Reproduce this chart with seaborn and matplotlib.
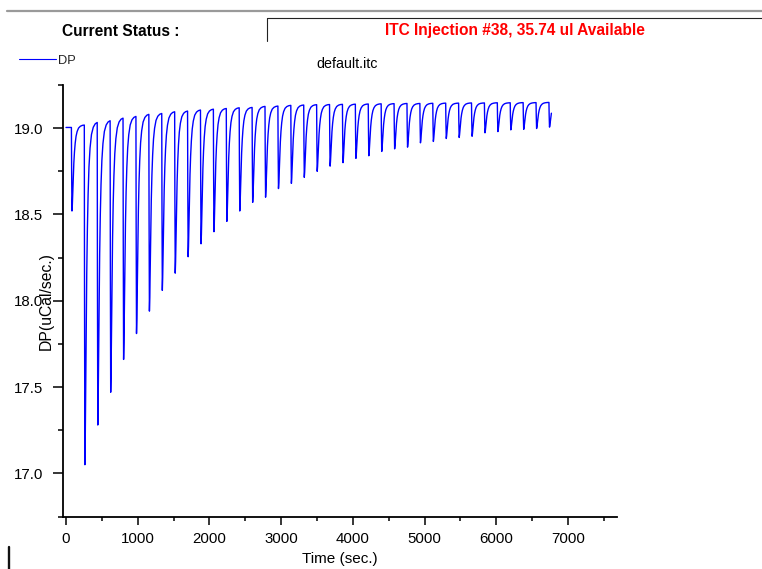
import numpy as np
import pandas as pd
import matplotlib
matplotlib.use("Agg")
import matplotlib.pyplot as plt
from matplotlib.lines import Line2D
from matplotlib.ticker import MultipleLocator, FormatStrFormatter
import seaborn as sns

# ---- ITC run data -------------------------------------------------------
# injection start times (sec.)
injection_times = [75, 255, 435, 615, 795, 975, 1155, 1335, 1515, 1695,
                   1875, 2055, 2235, 2415, 2595, 2775, 2955, 3135, 3315, 3495,
                   3675, 3855, 4035, 4215, 4395, 4575, 4755, 4935, 5115, 5295,
                   5475, 5655, 5835, 6015, 6195, 6375, 6555, 6735]
# DP minimum reached for each injection (uCal/sec.)
peak_minima = [18.52, 17.05, 17.28, 17.47, 17.66, 17.81, 17.94, 18.06, 18.16, 18.255,
               18.33, 18.40, 18.46, 18.52, 18.57, 18.60, 18.65, 18.68, 18.715, 18.75,
               18.78, 18.80, 18.825, 18.84, 18.865, 18.88, 18.89, 18.915, 18.923, 18.94,
               18.946, 18.953, 18.973, 18.98, 18.99, 18.993, 18.998, 19.006]
# DP baseline level before each injection, plus the level after the last one
baseline_levels = [19.004, 19.018, 19.033, 19.043, 19.058, 19.068, 19.080, 19.085,
                   19.095, 19.099, 19.105, 19.110, 19.114, 19.118, 19.120, 19.126,
                   19.128, 19.132, 19.134, 19.136, 19.137, 19.138, 19.139, 19.140,
                   19.141, 19.142, 19.143, 19.143, 19.144, 19.145, 19.145, 19.146,
                   19.146, 19.147, 19.147, 19.148, 19.148, 19.149, 19.150]
# shape of one injection peak: seconds after injection, fraction of peak depth
peak_offsets = [0, 3, 8, 13, 19, 26, 34, 43, 53, 65, 80, 100, 125, 152, 179]
peak_fraction = [0, 0.5, 1.0, 0.93, 0.78, 0.6, 0.44, 0.31, 0.21, 0.13, 0.075, 0.035, 0.014, 0.004, 0]
run_end = 6775

x_ticks = [0, 1000, 2000, 3000, 4000, 5000, 6000, 7000]
y_ticks = [17.0, 17.5, 18.0, 18.5, 19.0]

# ---- assemble the thermogram -------------------------------------------
times = [0.0]
dp = [baseline_levels[0]]
min_offset = peak_offsets[int(np.argmax(peak_fraction))]
for i, t0 in enumerate(injection_times):
    start, top, low = baseline_levels[i], baseline_levels[i + 1], peak_minima[i]
    for off, frac in zip(peak_offsets, peak_fraction):
        tt = t0 + off
        if tt > run_end:
            break
        ref = start if off <= min_offset else top
        times.append(tt)
        dp.append(ref - (ref - low) * frac)
trace = pd.DataFrame({"Time": times, "DP": dp})

# ---- figure ------------------------------------------------------------
sns.set_theme(style="ticks")
plt.rcParams["font.family"] = ["Liberation Sans", "DejaVu Sans"]

W, H = 762, 569
fig = plt.figure(figsize=(W / 100, H / 100), dpi=100)
fig.patch.set_facecolor("white")
ax = fig.add_axes([63.3 / W, 1 - 516.5 / H, 553.4 / W, 431.5 / H])
ax.set_facecolor("white")

sns.lineplot(data=trace, x="Time", y="DP", ax=ax, color="#0000ff", lw=1.0,
             estimator=None, sort=False, label="DP")

ax.set_xlim(-38, 7680)
ax.set_ylim(16.75, 19.25)
ax.set_xticks(x_ticks)
ax.set_yticks(y_ticks)
ax.xaxis.set_minor_locator(MultipleLocator(500))
ax.yaxis.set_minor_locator(MultipleLocator(0.25))
ax.yaxis.set_major_formatter(FormatStrFormatter("%.1f"))

sns.despine(ax=ax)
for side in ("left", "bottom"):
    ax.spines[side].set_color("black")
    ax.spines[side].set_linewidth(1.3)

ax.tick_params(axis="y", which="major", direction="out", length=7.2, width=1.1,
               color="black", labelsize=10.8, labelcolor="black", pad=7.2)
ax.tick_params(axis="y", which="minor", direction="out", length=3.6, width=1.1, color="black")
ax.tick_params(axis="x", which="major", direction="out", length=5.4, width=1.1,
               color="black", labelsize=10.8, labelcolor="black", pad=6)
ax.tick_params(axis="x", which="minor", direction="out", length=2.9, width=1.1, color="black")

ax.set_xlabel("Time (sec.)", fontsize=11, color="black", va="center")
ax.xaxis.set_label_coords(0.5, (516.5 - 559) / 431.5)
ax.set_ylabel("DP(uCal/sec.)", fontsize=11.3, color="black", va="center")
ax.yaxis.set_label_coords((46 - 63.3) / 553.4, 0.5)

leg = ax.legend(loc="center left", bbox_to_anchor=(19.4 / W, 1 - 61 / H),
                bbox_transform=fig.transFigure, frameon=False, fontsize=9.3,
                handlelength=2.85, handletextpad=0.15, borderpad=0, borderaxespad=0)
for h in leg.get_lines():
    h.set_linewidth(0.8)

fig.text(347 / W, 1 - 68 / H, "default.itc", fontsize=10.3, color="black",
         ha="center", va="baseline")

# status header
fig.add_artist(Line2D([7 / W, 1], [1 - 11 / H] * 2, color="#9a9a9a", lw=1.6))
fig.add_artist(Line2D([267 / W, 1], [1 - 18.3 / H] * 2, color="#222222", lw=0.8))
fig.add_artist(Line2D([267 / W] * 2, [1 - 18.3 / H, 1 - 41 / H], color="#222222", lw=0.8))
fig.text(61.7 / W, 1 - 36 / H, "Current Status :", fontsize=11.2, fontweight="bold",
         color="black", ha="left", va="baseline")
fig.text(514.5 / W, 1 - 35 / H, "ITC Injection #38, 35.74 ul Available", fontsize=11.2,
         fontweight="bold", color="#ff0000", ha="center", va="baseline")

# text cursor mark at the lower left
fig.add_artist(Line2D([9.2 / W] * 2, [0, 1 - 547 / H], color="#111111", lw=1.7))

fig.savefig("out.png", dpi=100, facecolor="white")
